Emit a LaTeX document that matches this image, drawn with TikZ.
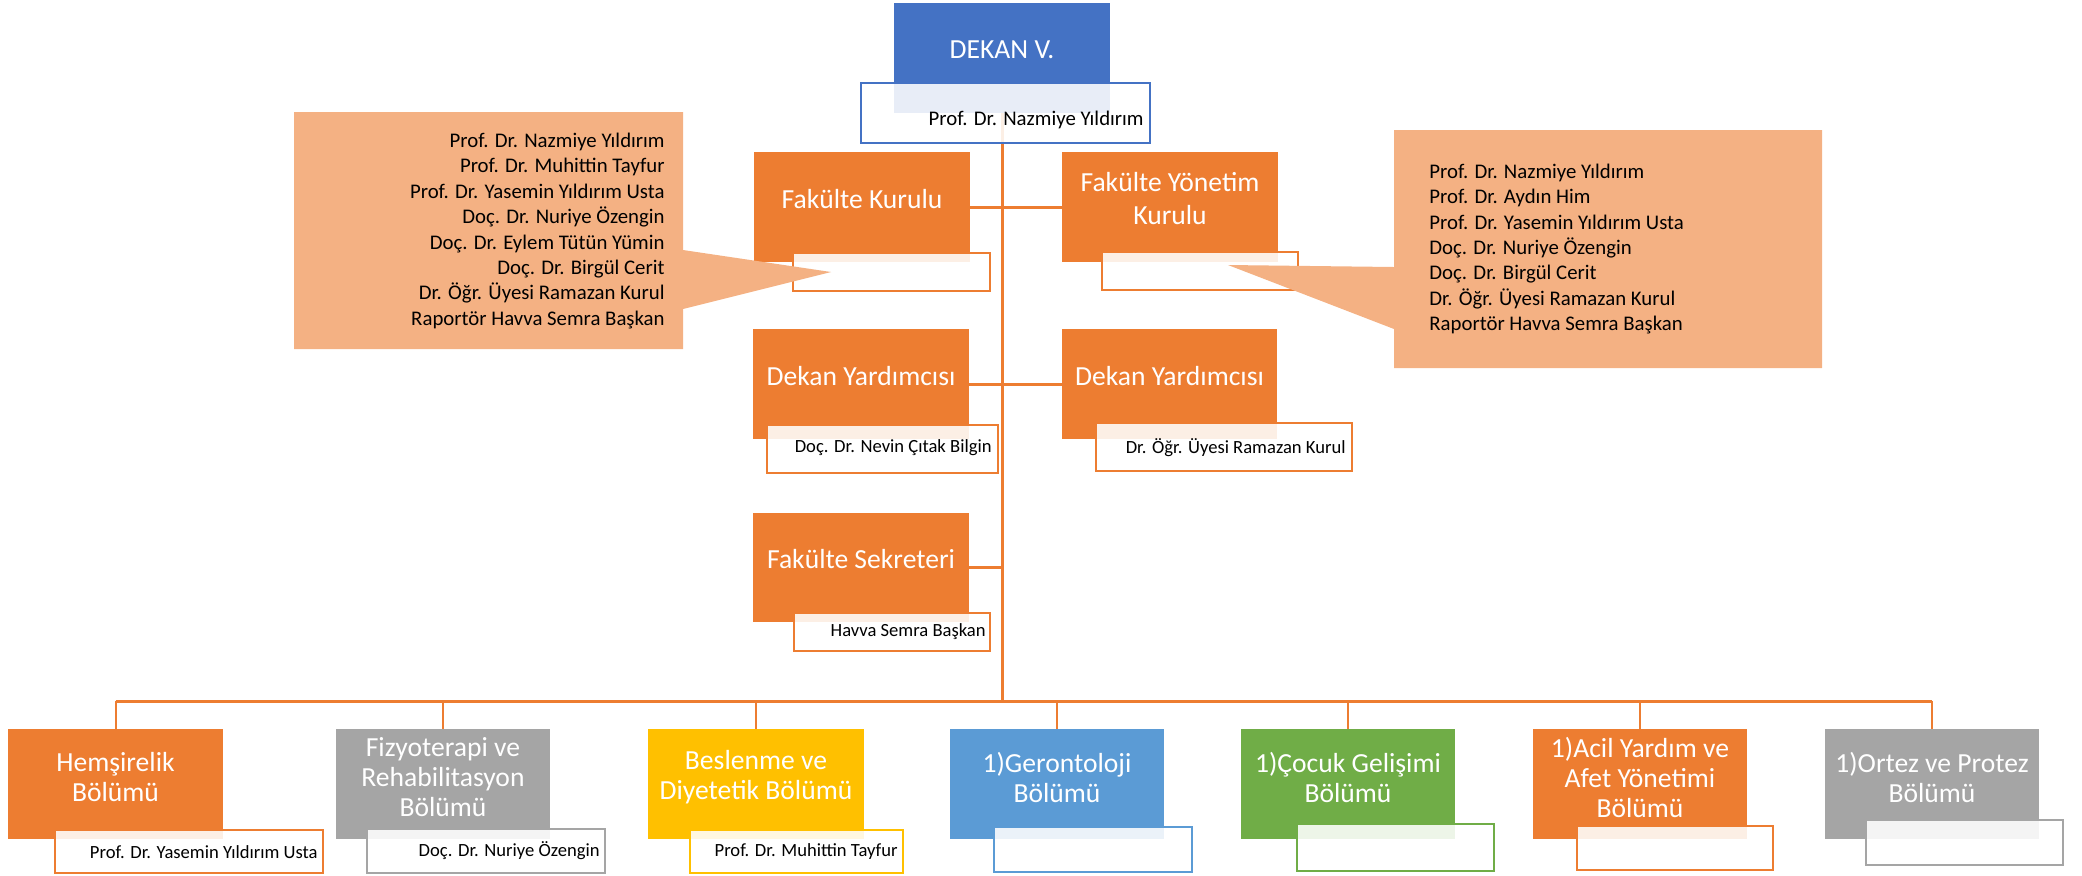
\documentclass[tikz,border=0pt]{standalone}
\usepackage{fontspec}
\setmainfont{Carlito}
\usetikzlibrary{fit}
\pgfdeclarelayer{bg}
\pgfsetlayers{bg,main}
\definecolor{cblue}{HTML}{4472C4}
\definecolor{corange}{HTML}{ED7D31}
\definecolor{cgray}{HTML}{A5A5A5}
\definecolor{cyellow}{HTML}{FFC000}
\definecolor{clblue}{HTML}{5B9BD5}
\definecolor{cgreen}{HTML}{70AD47}
\definecolor{ccallout}{HTML}{F4B183}
\tikzset{
  box/.style={fill=#1, draw=none, inner sep=0pt},
  sub/.style={draw=#1, line width=1.2pt, fill=white, fill opacity=0.88, inner sep=0pt},
  ttl/.style={text=white, align=center, font=\fontsize{13.8}{16.5}\selectfont, inner sep=0pt},
  btl/.style={text=white, align=center, font=\fontsize{13.8}{15}\selectfont, inner sep=0pt},
  nm/.style={font=\fontsize{9.3}{11}\selectfont, anchor=east, inner sep=0pt},
  conn/.style={draw=corange, line width=1.5pt},
  drop/.style={draw=corange, line width=1pt},
  callout/.style={fill=ccallout, draw=none},
  ctext/.style={font=\fontsize{10.4}{12.7}\selectfont, inner sep=0pt}
}
\begin{document}
\begin{tikzpicture}[x=0.5pt,y=-0.5pt]
\useasboundingbox (0,0) rectangle (2082,875);
\coordinate (bus) at (1002,701);
% top
\node[box=cblue, fit={(894,3) (1110,113)}] (dekan) {};
\node[ttl] (tdekan) at ([yshift=4pt]dekan.center) {DEKAN V.};
\node[sub=cblue, fit={(861,83) (1150,143)}] (sdekan) {};
\node[ctext, anchor=east] (ndekan) at (1144,120) {Prof. Dr. Nazmiye Yıldırım};
% fakulte kurulu
\node[box=corange, fit={(754,152) (970,262)}] (fk) {};
\node[ttl] (tfk) at ([yshift=4pt]fk.center) {Fakülte Kurulu};
\node[sub=corange, fit={(793,253) (990,291)}] (sfk) {};
\node[box=corange, fit={(1062,152) (1278,262)}] (yk) {};
\node[ttl] (tyk) at ([yshift=4pt]yk.center) {Fakülte Yönetim\\Kurulu};
\node[sub=corange, fit={(1102,252) (1298,290)}] (syk) {};
% dekan yardimcilari
\node[box=corange, fit={(753,329) (969,439)}] (dy1) {};
\node[ttl] (tdy1) at ([yshift=4pt]dy1.center) {Dekan Yardımcısı};
\node[sub=corange, fit={(767,425) (998,473)}] (sdy1) {};
\node[nm] (ndy1) at (992,448) {Doç. Dr. Nevin Çıtak Bilgin};
\node[box=corange, fit={(1062,329) (1277,439)}] (dy2) {};
\node[ttl] (tdy2) at ([yshift=4pt]dy2.center) {Dekan Yardımcısı};
\node[sub=corange, fit={(1096,423) (1352,471)}] (sdy2) {};
\node[nm] (ndy2) at (1346,448) {Dr. Öğr. Üyesi Ramazan Kurul};
% sekreter
\node[box=corange, fit={(753,513) (969,622)}] (fs) {};
\node[ttl] (tfs) at ([yshift=4pt]fs.center) {Fakülte Sekreteri};
\node[sub=corange, fit={(794,613) (990,651)}] (sfs) {};
\node[nm] (nfs) at (986,632) {Havva Semra Başkan};
% bottom row
\node[box=corange, fit={(8,729) (223,839)}] (b1) {};
\node[btl] (t1) at ([yshift=3.5pt]b1.center) {Hemşirelik\\Bölümü};
\node[sub=corange, fit={(55,830) (323,873)}] (s1) {};
\node[nm] (n1) at (318,852) {Prof. Dr. Yasemin Yıldırım Usta};
\node[box=cgray, fit={(336,729) (550,839)}] (b2) {};
\node[btl] (t2) at ([yshift=3.5pt]b2.center) {Fizyoterapi ve\\Rehabilitasyon\\Bölümü};
\node[sub=cgray, fit={(367,829) (605,873)}] (s2) {};
\node[nm] (n2) at (600,851) {Doç. Dr. Nuriye Özengin};
\node[box=cyellow, fit={(648,729) (864,839)}] (b3) {};
\node[btl] (t3) at ([yshift=3.5pt]b3.center) {Beslenme ve\\Diyetetik Bölümü};
\node[sub=cyellow, fit={(690,830) (903,873)}] (s3) {};
\node[nm] (n3) at (898,852) {Prof. Dr. Muhittin Tayfur};
\node[box=clblue, fit={(950,729) (1164,839)}] (b4) {};
\node[btl] (t4) at ([yshift=3.5pt]b4.center) {1)Gerontoloji\\Bölümü};
\node[sub=clblue, fit={(994,827) (1192,872)}] (s4) {};
\node[box=cgreen, fit={(1241,729) (1455,839)}] (b5) {};
\node[btl] (t5) at ([yshift=3.5pt]b5.center) {1)Çocuk Gelişimi\\Bölümü};
\node[sub=cgreen, fit={(1297,824) (1494,871)}] (s5) {};
\node[box=corange, fit={(1533,729) (1747,839)}] (b6) {};
\node[btl] (t6) at ([yshift=3.5pt]b6.center) {1)Acil Yardım ve\\Afet Yönetimi\\Bölümü};
\node[sub=corange, fit={(1577,826) (1773,870)}] (s6) {};
\node[box=cgray, fit={(1825,729) (2039,839)}] (b7) {};
\node[btl] (t7) at ([yshift=3.5pt]b7.center) {1)Ortez ve Protez\\Bölümü};
\node[sub=cgray, fit={(1866,820) (2063,865)}] (s7) {};
% connectors
\begin{pgfonlayer}{bg}
\draw[conn] (dekan.south) -- (dekan.south |- bus);
\draw[conn] (fk.east) -- (yk.west);
\draw[conn] (dy1.east) -- (dy2.west);
\draw[conn] (fs.east) -- (fs.east -| dekan.south);
\draw[conn] (b1.north |- bus) -- (b7.north |- bus);
\foreach \i in {1,...,7} \draw[drop] (b\i.north |- bus) -- (b\i.north);
\end{pgfonlayer}
% callouts
\fill[callout] (294,112) -- (683,112) -- (683,250) -- (831,272) -- (683,309) -- (683,349) -- (294,349) -- cycle;
\node[ctext, align=right, anchor=east] (cl) at (665,231) {Prof. Dr. Nazmiye Yıldırım\\Prof. Dr. Muhittin Tayfur\\Prof. Dr. Yasemin Yıldırım Usta\\Doç. Dr. Nuriye Özengin\\Doç. Dr. Eylem Tütün Yümin\\Doç. Dr. Birgül Cerit\\Dr. Öğr. Üyesi Ramazan Kurul\\Raportör Havva Semra Başkan};
\fill[callout] (1394,130) -- (1822,130) -- (1822,368) -- (1394,368) -- (1394,329) -- (1228,265) -- (1394,267) -- cycle;
\node[ctext, align=left, anchor=west] (cr) at (1429,249) {Prof. Dr. Nazmiye Yıldırım\\Prof. Dr. Aydın Him\\Prof. Dr. Yasemin Yıldırım Usta\\Doç. Dr. Nuriye Özengin\\Doç. Dr. Birgül Cerit\\Dr. Öğr. Üyesi Ramazan Kurul\\Raportör Havva Semra Başkan};
\end{tikzpicture}
\end{document}
